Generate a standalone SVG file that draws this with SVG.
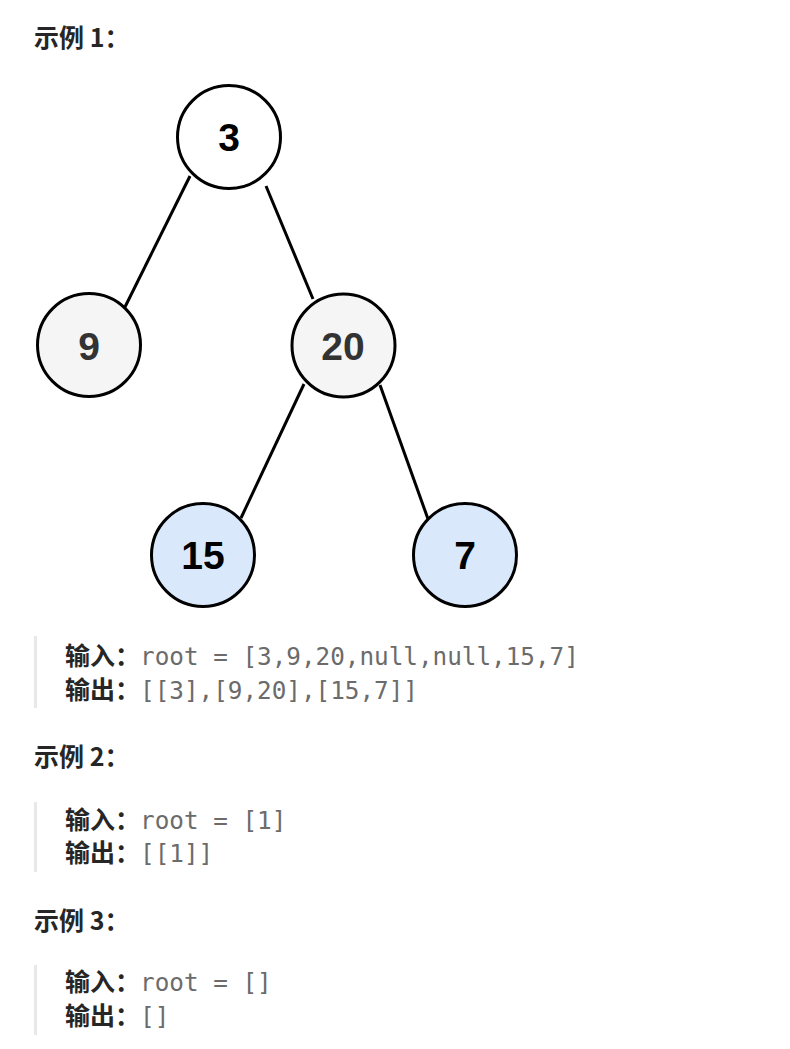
<svg xmlns="http://www.w3.org/2000/svg" width="790" height="1049" viewBox="0 0 790 1049">
<style>
.lb{font-family:"Noto Sans CJK SC",sans-serif;font-weight:bold;font-size:25px;fill:#262626}
.mono{font-family:"DejaVu Sans Mono","Liberation Mono",monospace;font-size:24.3px;fill:#6b6b6b}
.bar{fill:#e8e8e8}
.node circle{stroke:#000;stroke-width:3}
.node text{font-family:"Liberation Sans",Arial,sans-serif;font-weight:bold;font-size:39px;text-anchor:middle}
.edge{stroke:#000;stroke-width:3;fill:none}
</style>
<rect width="790" height="1049" fill="#fff"/>
<text class="lb" x="34" y="47">示例 1：</text>
<g id="edges">
<line class="edge" x1="190" y1="176" x2="125" y2="307"/>
<line class="edge" x1="266" y1="186" x2="313" y2="299"/>
<line class="edge" x1="304" y1="384" x2="241" y2="518"/>
<line class="edge" x1="380" y1="385" x2="428" y2="519"/>
</g>
<g id="n3" class="node"><circle cx="229" cy="137" r="51.5" fill="#ffffff"/><text x="229" y="151" fill="#000">3</text></g>
<g id="n9" class="node"><circle cx="89" cy="345" r="51.5" fill="#f5f5f5"/><text x="89" y="360" fill="#333">9</text></g>
<g id="n20" class="node"><circle cx="343.5" cy="345.5" r="51.5" fill="#f5f5f5"/><text x="343" y="360" fill="#333">20</text></g>
<g id="n15" class="node"><circle cx="203" cy="555" r="51.5" fill="#dae8fc"/><text x="203" y="569" fill="#000">15</text></g>
<g id="n7" class="node"><circle cx="465" cy="555" r="51.5" fill="#dae8fc"/><text x="465" y="569" fill="#000">7</text></g>
<rect class="bar" x="34" y="636" width="3" height="72"/>
<text class="lb" x="65" y="665">输入：</text><text class="mono" x="140" y="665">root = [3,9,20,null,null,15,7]</text>
<text class="lb" x="65" y="699">输出：</text><text class="mono" x="140" y="699">[[3],[9,20],[15,7]]</text>
<text class="lb" x="34" y="766">示例 2：</text>
<rect class="bar" x="34" y="802" width="3" height="70"/>
<text class="lb" x="65" y="829">输入：</text><text class="mono" x="140" y="829">root = [1]</text>
<text class="lb" x="65" y="862">输出：</text><text class="mono" x="140" y="862">[[1]]</text>
<text class="lb" x="34" y="930">示例 3：</text>
<rect class="bar" x="34" y="965" width="3" height="70"/>
<text class="lb" x="65" y="991">输入：</text><text class="mono" x="140" y="991">root = []</text>
<text class="lb" x="65" y="1025">输出：</text><text class="mono" x="140" y="1025">[]</text>
</svg>
